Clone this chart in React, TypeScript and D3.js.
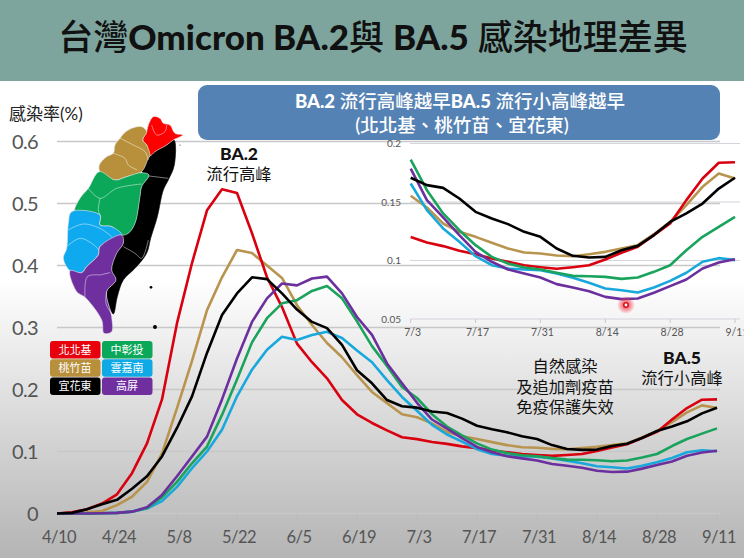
import React, { useEffect, useRef } from 'react';
import * as d3 from 'd3';

const W = 744;
const H = 558;

// tick labels, one every 14 days from 4/10
const mainTickLabels = ['4/10', '4/24', '5/8', '5/22', '6/5', '6/19', '7/3', '7/17', '7/31', '8/14', '8/28', '9/11'];
const insetTickLabels = ['7/3', '7/17', '7/31', '8/14', '8/28', '9/11'];
const mainYTicks = [0, 0.1, 0.2, 0.3, 0.4, 0.5, 0.6];
const insetYTicks = [0.05, 0.1, 0.15, 0.2];

// readings every 3.5 days, 4/10 to 9/11
const stepDays = 3.5;
const insetStart = 24; // index of 7/3

const north = [0, 0.002, 0.007, 0.016, 0.031, 0.065, 0.113, 0.184, 0.307, 0.404, 0.489, 0.523, 0.517, 0.452, 0.381, 0.333, 0.274, 0.244, 0.218, 0.183, 0.16, 0.146, 0.134, 0.123,
  0.12, 0.1154, 0.1123, 0.1083, 0.1054, 0.1017, 0.0989, 0.096, 0.0943, 0.0929, 0.0943, 0.096, 0.1009, 0.1066, 0.1117, 0.1217, 0.1316, 0.1516, 0.1701, 0.1835, 0.184];
const taoZhuMiao = [0, 0.001, 0.002, 0.004, 0.0135, 0.027, 0.051, 0.097, 0.17, 0.246, 0.328, 0.381, 0.425, 0.42, 0.4, 0.38, 0.336, 0.304, 0.275, 0.252, 0.223, 0.196, 0.178, 0.16,
  0.1553, 0.1453, 0.1316, 0.1245, 0.1202, 0.1151, 0.1103, 0.1068, 0.106, 0.1043, 0.1037, 0.1054, 0.1074, 0.1103, 0.1131, 0.1225, 0.133, 0.1473, 0.163, 0.1744, 0.1701];
const yiHuaDong = [0, 0.001, 0.007, 0.015, 0.022, 0.04, 0.06, 0.092, 0.138, 0.189, 0.259, 0.32, 0.355, 0.381, 0.378, 0.355, 0.329, 0.309, 0.299, 0.272, 0.231, 0.21, 0.183, 0.173,
  0.1707, 0.1644, 0.1621, 0.153, 0.1416, 0.1359, 0.1311, 0.1245, 0.1202, 0.1103, 0.104, 0.1026, 0.1031, 0.1088, 0.1125, 0.1217, 0.133, 0.1402, 0.1487, 0.1615, 0.1707];
const zhongZhangTou = [0, 0, 0, 0.0003, 0.001, 0.003, 0.009, 0.026, 0.051, 0.081, 0.108, 0.159, 0.216, 0.276, 0.315, 0.339, 0.344, 0.359, 0.367, 0.347, 0.31, 0.27, 0.238, 0.204,
  0.1863, 0.1601, 0.1402, 0.1259, 0.1131, 0.1031, 0.0974, 0.094, 0.0923, 0.0895, 0.0869, 0.0866, 0.086, 0.0843, 0.0855, 0.0903, 0.096, 0.1088, 0.1202, 0.1288, 0.1373];
const yunJiaNan = [0, 0, 0, 0.0003, 0.001, 0.003, 0.008, 0.02, 0.043, 0.073, 0.1, 0.135, 0.189, 0.232, 0.264, 0.285, 0.28, 0.288, 0.293, 0.283, 0.263, 0.244, 0.215, 0.188,
  0.1658, 0.143, 0.1274, 0.116, 0.1037, 0.096, 0.0932, 0.0923, 0.0917, 0.0889, 0.0852, 0.0809, 0.0761, 0.0746, 0.0726, 0.0769, 0.0826, 0.0895, 0.0989, 0.102, 0.1003];
const gaoPing = [0, 0, 0, 0.0003, 0.001, 0.003, 0.01, 0.03, 0.06, 0.092, 0.124, 0.184, 0.25, 0.309, 0.347, 0.371, 0.368, 0.379, 0.382, 0.355, 0.317, 0.288, 0.242, 0.21,
  0.1786, 0.1516, 0.1368, 0.1217, 0.1074, 0.0989, 0.0923, 0.0889, 0.0855, 0.0798, 0.0769, 0.0738, 0.0689, 0.067, 0.0675, 0.0724, 0.0781, 0.0838, 0.0932, 0.0983, 0.1011];

const legendNames = ['北北基', '中彰投', '桃竹苗', '雲嘉南', '宜花東', '高屏'];
const legendColors = ['#e8000d', '#0aa858', '#b8903c', '#0fa9e6', '#000000', '#6f2f9f'];

// draw order, black stays on top
const seriesList: { values: number[]; color: string }[] = [
  { values: taoZhuMiao, color: '#b8944f' },
  { values: north, color: '#d9000f' },
  { values: yunJiaNan, color: '#18a8dc' },
  { values: zhongZhangTou, color: '#1aa35c' },
  { values: gaoPing, color: '#6b2f9e' },
  { values: yiHuaDong, color: '#000000' },
];

// map outlines
const mapRegions: { color: string; pts: [number, number][] }[] = [
  { color: '#000000', pts: [[522, 150], [523, 225], [505, 270], [490, 300], [472, 380], [452, 445], [440, 490], [405, 535], [370, 570], [352, 620], [340, 672], [325, 640], [320, 605], [348, 570], [335, 540], [350, 490], [370, 460], [365, 435], [385, 430], [405, 400], [420, 320], [425, 290], [447, 255], [425, 245], [445, 205], [450, 197], [465, 185], [500, 165]] },
  { color: '#ff0000', pts: [[445, 105], [460, 80], [480, 85], [490, 100], [510, 105], [525, 130], [548, 135], [520, 150], [500, 165], [465, 185], [450, 197], [440, 165], [428, 150], [440, 125]] },
  { color: '#b8903c', pts: [[372, 130], [395, 115], [425, 110], [440, 125], [428, 150], [440, 165], [450, 197], [445, 205], [425, 245], [380, 260], [345, 270], [300, 245], [298, 225], [320, 200], [340, 190], [345, 165], [360, 145]] },
  { color: '#0aa858', pts: [[298, 245], [345, 270], [380, 260], [425, 248], [447, 255], [425, 290], [420, 320], [405, 400], [385, 430], [365, 435], [335, 410], [300, 405], [300, 375], [225, 365], [240, 325], [265, 295]] },
  { color: '#0fa9f0', pts: [[215, 365], [300, 375], [300, 405], [335, 410], [365, 435], [300, 470], [295, 495], [260, 530], [245, 548], [210, 542], [190, 505], [200, 475], [205, 400]] },
  { color: '#6f2f9f', pts: [[245, 548], [260, 530], [295, 495], [300, 470], [365, 435], [370, 460], [350, 490], [335, 540], [348, 570], [320, 605], [335, 680], [335, 725], [312, 730], [305, 690], [255, 622], [230, 605], [210, 542]] },
];
const mapBorders: [number, number][][] = [
  [[355, 142], [400, 165], [435, 185], [445, 210]],
  [[340, 190], [375, 205], [385, 225], [412, 240]],
  [[455, 105], [470, 135], [495, 125], [500, 105]],
  [[265, 295], [300, 325], [350, 295], [425, 282]],
  [[300, 325], [295, 360], [300, 375]],
  [[205, 420], [250, 402], [300, 415], [335, 440]],
  [[200, 470], [240, 445], [275, 460], [298, 480]],
  [[300, 555], [262, 560], [255, 622]],
  [[330, 548], [300, 555]],
  [[447, 258], [505, 265]],
  [[370, 470], [405, 490], [425, 505], [445, 450]],
  [[320, 605], [318, 640], [335, 672]],
];
const mapIslands: [number, number, number][] = [[453, 592, 4], [465, 711, 6], [540, 165, 1.5]];

const FONT = 'Lato, "Noto Sans CJK TC", sans-serif';

export default function App() {
  const svgRef = useRef<SVGSVGElement>(null);

  useEffect(() => {
    if (!svgRef.current) return;
    const svg = d3.select(svgRef.current);
    svg.selectAll('*').remove();

    const defs = svg.append('defs');
    const bg = defs.append('linearGradient').attr('id', 'body-bg').attr('x1', 0).attr('y1', 0).attr('x2', 0).attr('y2', 1);
    bg.append('stop').attr('offset', '0%').attr('stop-color', '#ffffff');
    bg.append('stop').attr('offset', '50%').attr('stop-color', '#ffffff');
    bg.append('stop').attr('offset', '100%').attr('stop-color', '#b4b4b4');
    const glow = defs.append('radialGradient').attr('id', 'dot-glow');
    glow.append('stop').attr('offset', '30%').attr('stop-color', '#f03040').attr('stop-opacity', 0.7);
    glow.append('stop').attr('offset', '100%').attr('stop-color', '#f03040').attr('stop-opacity', 0);

    svg.append('rect').attr('width', W).attr('height', H).attr('fill', 'url(#body-bg)');
    svg.append('rect').attr('width', W).attr('height', 81).attr('fill', '#7da59e');

    // title mixes a heavy latin with a lighter CJK
    const title = svg.append('text')
      .attr('x', 373).attr('y', 50)
      .attr('text-anchor', 'middle')
      .attr('font-size', 35).attr('fill', '#111');
    [['台灣', 500], ['Omicron BA.2', 900], ['與 ', 500], ['BA.5', 900], [' 感染地理差異', 500]].forEach(([t, w]) => {
      title.append('tspan').attr('font-weight', w).attr('xml:space', 'preserve').text(t as string);
    });

    const mainX = d3.scaleLinear().domain([0, 154]).range([57, 717]);
    const mainY = d3.scaleLinear().domain([0, 0.6]).range([513.5, 141.5]);
    const insetX = d3.scaleLinear().domain([84, 154]).range([410.7, 735]);
    const insetY = d3.scaleLinear().domain([0.05, 0.2]).range([319, 143.5]);

    // main grid
    svg.append('g').selectAll('line').data(mainYTicks).enter().append('line')
      .attr('x1', mainX(0)).attr('x2', 720)
      .attr('y1', d => mainY(d)).attr('y2', d => mainY(d))
      .attr('stroke', '#c8c8c8').attr('stroke-width', 1.5);

    svg.append('g').selectAll('text').data(mainYTicks).enter().append('text')
      .attr('x', 38).attr('y', d => mainY(d) + 7.5)
      .attr('text-anchor', 'end')
      .attr('font-size', 20).attr('letter-spacing', -0.6).attr('fill', '#555')
      .text(d => (d === 0 ? '0' : d.toFixed(1)));

    const mainTicks = mainTickLabels.map((_, i) => i * 14);
    svg.append('g').selectAll('line').data(mainTicks).enter().append('line')
      .attr('x1', d => mainX(d)).attr('x2', d => mainX(d))
      .attr('y1', 513.5).attr('y2', 520)
      .attr('stroke', '#bdbdbd').attr('stroke-width', 1.5);
    svg.append('g').selectAll('text').data(mainTicks).enter().append('text')
      .attr('x', d => mainX(d) + 2).attr('y', 543)
      .attr('text-anchor', 'middle')
      .attr('font-size', 16.5).attr('letter-spacing', -0.5).attr('fill', '#555')
      .text((_, i) => mainTickLabels[i]);

    const mainLine = d3.line<number>()
      .x((_, i) => mainX(i * stepDays))
      .y(d => mainY(d));

    svg.append('g').selectAll('path').data(seriesList).enter().append('path')
      .attr('fill', 'none')
      .attr('stroke', d => d.color)
      .attr('stroke-width', 2.6)
      .attr('stroke-linejoin', 'round')
      .attr('d', d => mainLine(d.values));

    // inset
    svg.append('g').selectAll('line').data(insetYTicks).enter().append('line')
      .attr('x1', 410).attr('x2', 740)
      .attr('y1', d => insetY(d)).attr('y2', d => insetY(d))
      .attr('stroke', '#d4d4dc').attr('stroke-width', 1.2);
    svg.append('g').selectAll('text').data(insetYTicks).enter().append('text')
      .attr('x', 401).attr('y', d => insetY(d) + 3.5)
      .attr('text-anchor', 'end')
      .attr('font-size', 10).attr('fill', '#555')
      .text(d => String(d));

    const insetTicks = insetTickLabels.map((_, i) => 84 + i * 14);
    svg.append('g').selectAll('line').data(insetTicks).enter().append('line')
      .attr('x1', d => insetX(d)).attr('x2', d => insetX(d))
      .attr('y1', 319).attr('y2', 323)
      .attr('stroke', '#c8c8d0');
    svg.append('g').selectAll('text').data(insetTicks).enter().append('text')
      .attr('x', d => insetX(d) + 2).attr('y', 336)
      .attr('text-anchor', 'middle')
      .attr('font-size', 10.5).attr('fill', '#555')
      .text((_, i) => insetTickLabels[i]);

    const insetLine = d3.line<number>()
      .x((_, i) => insetX(84 + i * stepDays))
      .y(d => insetY(d));

    svg.append('g').selectAll('path').data(seriesList).enter().append('path')
      .attr('fill', 'none')
      .attr('stroke', d => d.color)
      .attr('stroke-width', 2.6)
      .attr('stroke-linejoin', 'round')
      .attr('d', d => insetLine(d.values.slice(insetStart)));

    // pointer dot under the purple trough
    svg.append('circle').attr('cx', 626).attr('cy', 305).attr('r', 9).attr('fill', 'url(#dot-glow)');
    svg.append('circle').attr('cx', 626).attr('cy', 305).attr('r', 2.2).attr('fill', '#fff').attr('stroke', '#e0101c').attr('stroke-width', 1.6);

    // banner
    svg.append('rect')
      .attr('x', 198).attr('y', 85).attr('width', 522).attr('height', 55).attr('rx', 9)
      .attr('fill', '#5582b4');
    const bannerTop = svg.append('text').attr('x', 460).attr('y', 108)
      .attr('text-anchor', 'middle').attr('font-size', 18.5).attr('fill', '#fff');
    [['BA.2', 900], [' 流行高峰越早', 500], ['BA.5', 900], [' 流行小高峰越早', 500]].forEach(([t, w]) => {
      bannerTop.append('tspan').attr('font-weight', w).attr('xml:space', 'preserve').text(t as string);
    });
    svg.append('text').attr('x', 462).attr('y', 132)
      .attr('text-anchor', 'middle').attr('font-size', 18.5).attr('font-weight', 500).attr('fill', '#fff')
      .text('(北北基、桃竹苗、宜花東)');

    svg.append('text').attr('x', 9).attr('y', 120)
      .attr('font-size', 17).attr('fill', '#222')
      .text('感染率(%)');

    // map
    const mapG = svg.append('g').attr('transform', 'translate(0,90) scale(0.3333)');
    const outline = d3.line<[number, number]>().curve(d3.curveCatmullRomClosed.alpha(0.5));
    mapG.selectAll('path.region').data(mapRegions).enter().append('path')
      .attr('class', 'region')
      .attr('fill', d => d.color)
      .attr('stroke', (_, i) => (i === 0 ? '#000' : '#e8e8e8'))
      .attr('stroke-width', 1.8).attr('stroke-linejoin', 'round')
      .attr('d', d => outline(d.pts));
    const border = d3.line<[number, number]>().curve(d3.curveCatmullRom);
    mapG.selectAll('path.border').data(mapBorders).enter().append('path')
      .attr('class', 'border')
      .attr('fill', 'none').attr('stroke', '#fff').attr('stroke-width', 2).attr('opacity', 0.7)
      .attr('d', d => border(d));
    mapG.selectAll('circle').data(mapIslands).enter().append('circle')
      .attr('cx', d => d[0]).attr('cy', d => d[1]).attr('r', d => d[2]).attr('fill', '#000');

    // legend, two columns
    const legendG = svg.append('g').selectAll('g').data(legendNames).enter().append('g')
      .attr('transform', (_, i) => `translate(${50 + (i % 2) * 52},${341 + Math.floor(i / 2) * 18.2})`);
    legendG.append('rect')
      .attr('width', 50.5).attr('height', 17.5).attr('rx', 3)
      .attr('fill', (_, i) => legendColors[i]);
    legendG.append('text')
      .attr('x', 25).attr('y', 13)
      .attr('text-anchor', 'middle').attr('font-size', 11).attr('fill', '#fff')
      .text(d => d);

    // annotations
    const notes: { x: number; y: number; size: number; bold?: boolean; text: string }[] = [
      { x: 239, y: 160, size: 17.5, bold: true, text: 'BA.2' },
      { x: 239, y: 180, size: 16.3, text: '流行高峰' },
      { x: 565, y: 372, size: 16.3, text: '自然感染' },
      { x: 565, y: 393, size: 16.3, text: '及追加劑疫苗' },
      { x: 565, y: 413, size: 16.3, text: '免疫保護失效' },
      { x: 682, y: 364, size: 17.5, bold: true, text: 'BA.5' },
      { x: 682, y: 384, size: 16.3, text: '流行小高峰' },
    ];
    svg.append('g').selectAll('text').data(notes).enter().append('text')
      .attr('x', d => d.x).attr('y', d => d.y)
      .attr('text-anchor', 'middle')
      .attr('font-size', d => d.size)
      .attr('font-weight', d => (d.bold ? 900 : 400))
      .attr('fill', '#111')
      .text(d => d.text);
  }, []);

  return (
    <svg
      ref={svgRef}
      width={W}
      height={H}
      style={{ position: 'absolute', left: 0, top: 0, fontFamily: FONT }}
    />
  );
}
